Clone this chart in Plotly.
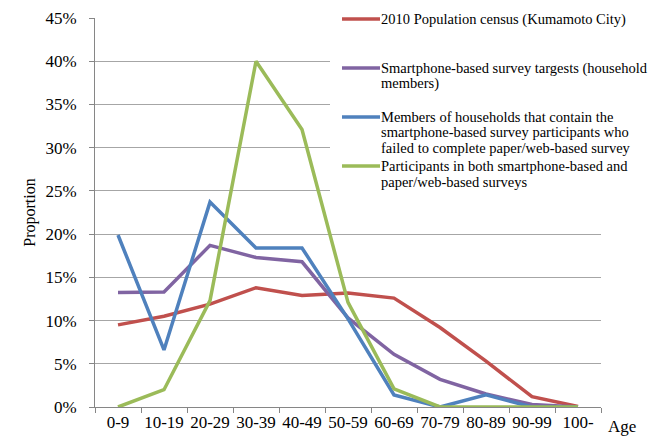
import plotly.graph_objects as go

ages = ["0-9", "10-19", "20-29", "30-39", "40-49", "50-59", "60-69", "70-79", "80-89", "90-99", "100-"]
census = [9.5, 10.5, 11.9, 13.8, 12.9, 13.2, 12.6, 9.2, 5.3, 1.2, 0.05]
targets = [13.25, 13.3, 18.7, 17.3, 16.8, 10.3, 6.1, 3.2, 1.5, 0.3, 0.0]
failed = [19.9, 6.6, 23.7, 18.4, 18.4, 10.2, 1.4, 0.0, 1.4, 0.0, 0.0]
both = [0.0, 2.0, 12.3, 40.0, 32.1, 12.1, 2.1, 0.0, 0.0, 0.0, 0.0]

legend_lines = [
    ["2010 Population census (Kumamoto City)"],
    ["Smartphone-based survey targests (household", "members)"],
    ["Members of households that contain the",
     "smartphone-based survey participants who",
     "failed to complete paper/web-based survey"],
    ["Participants in both smartphone-based and", "paper/web-based surveys"],
]
colors = ["#C0504D", "#8064A2", "#4F81BD", "#9BBB59"]
series = [census, targets, failed, both]

font_family = "Liberation Serif"

# plot area in page pixels (used only to place the hand-drawn legend)
PX0, PX1, PY0, PY1 = 95, 601, 18, 407
def dx(px):
    return (px - PX0) / (PX1 - PX0)
def dy(py):
    return (PY1 - py) / (PY1 - PY0)

fig = go.Figure()
for lines, col, vals in zip(legend_lines, colors, series):
    fig.add_trace(go.Scatter(
        x=ages, y=[v / 100 for v in vals], mode="lines", name=" ".join(lines),
        line=dict(color=col, width=3.5), showlegend=False,
    ))

shapes = [dict(
    type="rect", xref="x domain", yref="y domain",
    x0=dx(330), x1=dx(670), y0=dy(205), y1=dy(-10),
    fillcolor="white", line=dict(width=0), layer="above",
)]
annotations = []
entry_tops = [19, 68, 117, 166]
line_step = 15.5
for lines, col, top in zip(legend_lines, colors, entry_tops):
    shapes.append(dict(
        type="line", xref="x domain", yref="y domain",
        x0=dx(342), x1=dx(380), y0=dy(top), y1=dy(top),
        line=dict(color=col, width=3.5), layer="above",
    ))
    for i, txt in enumerate(lines):
        annotations.append(dict(
            text=txt, xref="x domain", yref="y domain",
            x=dx(379), y=dy(top + i * line_step),
            xanchor="left", yanchor="middle", showarrow=False,
            font=dict(size=14.5, family=font_family, color="black"),
        ))

annotations.append(dict(
    text="Age", xref="paper", yref="paper", x=dx(606), y=0, yshift=-19,
    xanchor="left", yanchor="middle", showarrow=False,
    font=dict(size=17, family=font_family, color="black"),
))

fig.update_layout(
    width=663, height=438,
    margin=dict(l=87, r=70, t=10, b=39, autoexpand=False),
    paper_bgcolor="white", plot_bgcolor="white",
    font=dict(family=font_family, size=16, color="black"),
    showlegend=False,
    xaxis=dict(
        type="category", range=[-0.5, 10.5],
        showline=True, linecolor="#868686", linewidth=1,
        ticks="outside", ticklen=5, tickcolor="#868686", tickson="boundaries",
        showgrid=False, tickangle=0,
        tickfont=dict(size=17, family=font_family, color="black"),
    ),
    yaxis=dict(
        range=[0, 0.45], dtick=0.05, tickformat=".0%",
        showline=True, linecolor="#868686", linewidth=1,
        ticks="outside", ticklen=5, tickcolor="#868686",
        showgrid=True, gridcolor="#A6A6A6", gridwidth=1,
        zeroline=False, ticklabeloverflow="allow", ticklabelstandoff=9,
        tickfont=dict(size=17, family=font_family, color="black"),
        title=dict(text="Proportion", font=dict(size=16, family=font_family), standoff=5),
    ),
    shapes=shapes,
    annotations=annotations,
)

fig.write_html("out.html")
